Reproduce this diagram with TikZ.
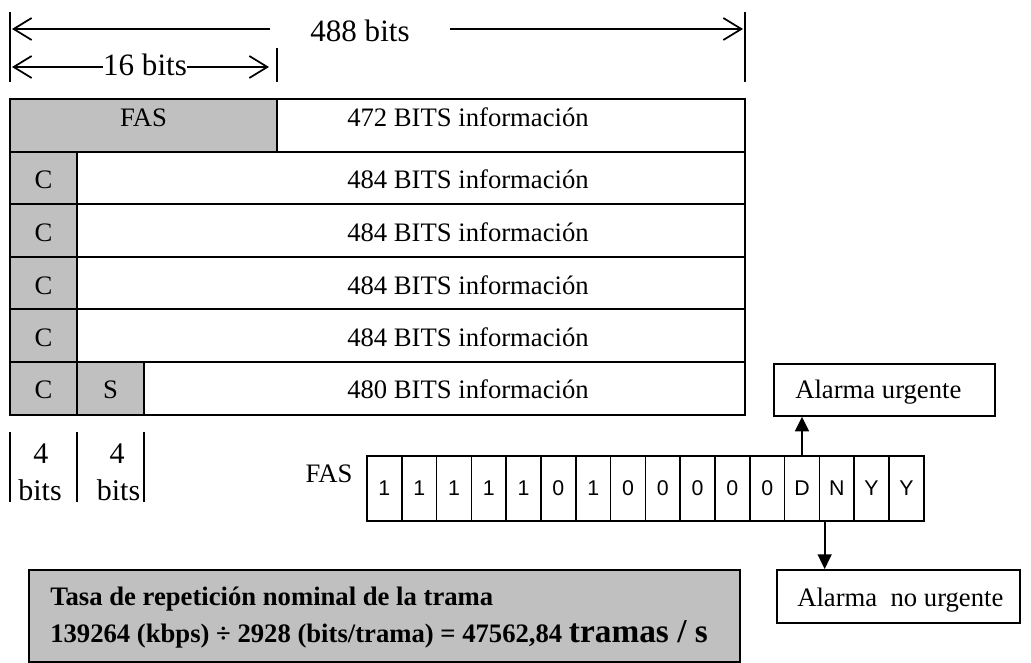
\documentclass[tikz,border=0pt]{standalone}
\usepackage{fontspec}
\setmainfont{Liberation Serif}
\newfontfamily\sansdig{Liberation Sans}
\usetikzlibrary{arrows.meta,calc}
\definecolor{cellgray}{RGB}{192,192,192}

\begin{document}
\begin{tikzpicture}[x=0.75pt,y=-0.75pt,
  tbl/.style={line width=1.5pt},
  dimbar/.style={line width=1.4pt},
  dimarrow/.style={line width=1.3pt,-{Straight Barb[length=13.5pt,width=16.5pt]}},
  alarmarrow/.style={line width=1.3pt,-{Triangle[length=11pt,width=10.5pt]}},
  dimtext/.style={inner sep=0pt,font=\fontsize{23.3}{28}\selectfont},
  celltext/.style={inner sep=0pt,font=\fontsize{20}{24}\selectfont},
  bitcell/.style={draw,line width=1.1pt,inner sep=0pt,
    minimum width={34.8*0.75pt},minimum height={65*0.75pt},
    font=\sansdig\fontsize{16}{19}\selectfont},
  alarmbox/.style={draw,line width=1.3pt,inner sep=0pt,anchor=north west}
]
\useasboundingbox (0,0) rectangle (1031,663);

% ---- dimension marks above the frame
\draw[dimbar] (10,12) -- (10,82);
\draw[dimbar] (745,12) -- (745,82);
\draw[dimbar] (277,48) -- (277,82);

\node[dimtext,anchor=base] (t488) at (360,42) {488 bits};
\coordinate (a488l) at (270,29);
\coordinate (a488lt) at (12,29);
\coordinate (a488r) at (450,29);
\coordinate (a488rt) at (743,29);
\draw[dimarrow] (a488l) -- (a488lt);
\draw[dimarrow] (a488r) -- (a488rt);

\node[dimtext,anchor=base] (t16) at (145,76) {16 bits};
\coordinate (d16) at (0,67);
\coordinate (a16lt) at (12,67);
\coordinate (a16rt) at (269,67);
\draw[dimarrow] (t16.west |- d16) -- (a16lt);
\draw[dimarrow] (t16.east |- d16) -- (a16rt);

% ---- frame structure: six rows
\draw[tbl,fill=cellgray] (10,99) rectangle (277,151.6);
\draw[tbl] (277,99) rectangle (745,151.6);
\node[celltext,anchor=base] (fas) at (143.5,127) {FAS};
\node[celltext,anchor=base west] (info1) at (347,127) {472 BITS información};

\foreach \r in {1,2,3,4} {
  \pgfmathsetmacro{\top}{99+52.6*\r}
  \pgfmathsetmacro{\bot}{99+52.6*(\r+1)}
  \draw[tbl,fill=cellgray] (10,\top) rectangle (77,\bot);
  \draw[tbl] (77,\top) rectangle (745,\bot);
  \node[celltext,anchor=base] (c\r) at (43.5,\top+37.3) {C};
  \node[celltext,anchor=base west] (info\r b) at (347,\top+37.3) {484 BITS información};
}

\draw[tbl,fill=cellgray] (10,362) rectangle (77,414.6);
\draw[tbl,fill=cellgray] (77,362) rectangle (144,414.6);
\draw[tbl] (144,362) rectangle (745,414.6);
\node[celltext,anchor=base] (c5) at (43.5,398.5) {C};
\node[celltext,anchor=base] (s5) at (110.5,398.5) {S};
\node[celltext,anchor=base west] (info6) at (347,398.5) {480 BITS información};

% ---- widths of C and S
\draw[dimbar] (10,432) -- (10,502);
\draw[dimbar] (77,432) -- (77,502);
\draw[dimbar] (144,432) -- (144,502);
\node[dimtext,font=\fontsize{22.5}{27}\selectfont,anchor=base] (w1a) at (41,463) {4};
\node[dimtext,font=\fontsize{22.5}{27}\selectfont,anchor=base] (w1b) at (40,500) {bits};
\node[dimtext,font=\fontsize{22.5}{27}\selectfont,anchor=base] (w2a) at (117,463) {4};
\node[dimtext,font=\fontsize{22.5}{27}\selectfont,anchor=base] (w2b) at (118.5,500) {bits};

% ---- FAS word
\node[celltext,anchor=base] (faslbl) at (329,482) {FAS};
\foreach \b [count=\i] in {1,1,1,1,1,0,1,0,0,0,0,0,D,N,Y,Y}
  \node[bitcell] (b\i) at ({367+34.8*(\i-0.5)},488.5) {\b};

% ---- alarm boxes
\node[alarmbox,minimum width={221*0.75pt},minimum height={52*0.75pt}] (urg) at (773,363) {};
\node[celltext,anchor=base west] (urgtxt) at (795,398) {Alarma urgente};
\node[alarmbox,minimum width={243*0.75pt},minimum height={53*0.75pt}] (nurg) at (776,569) {};
\node[celltext,anchor=base west] (nurgtxt) at (797,606) {Alarma\ \ no urgente};

\draw[alarmarrow] (b13.north) -- (b13.north |- urg.south);
\coordinate (ndown) at ($(b14.south west)+(6,0)$);
\draw[alarmarrow] (ndown) -- (ndown |- nurg.north);

% ---- frame repetition rate
\node[draw,fill=cellgray,line width=1.3pt,inner sep=0pt,anchor=north west,
  minimum width={711*0.75pt},minimum height={92*0.75pt}] (ratebox) at (28,569) {};
\node[inner sep=0pt,anchor=base west,font=\bfseries\fontsize{20}{24}\selectfont] (rate1) at (50,605)
  {Tasa de repetición nominal de la trama};
\node[inner sep=0pt,anchor=base west,font=\bfseries\fontsize{20}{24}\selectfont] (rate2) at (50,642)
  {139264 (kbps) ÷ 2928 (bits/trama) = 47562,84 {\fontsize{25}{30}\selectfont tramas / s}};
\end{tikzpicture}
\end{document}
